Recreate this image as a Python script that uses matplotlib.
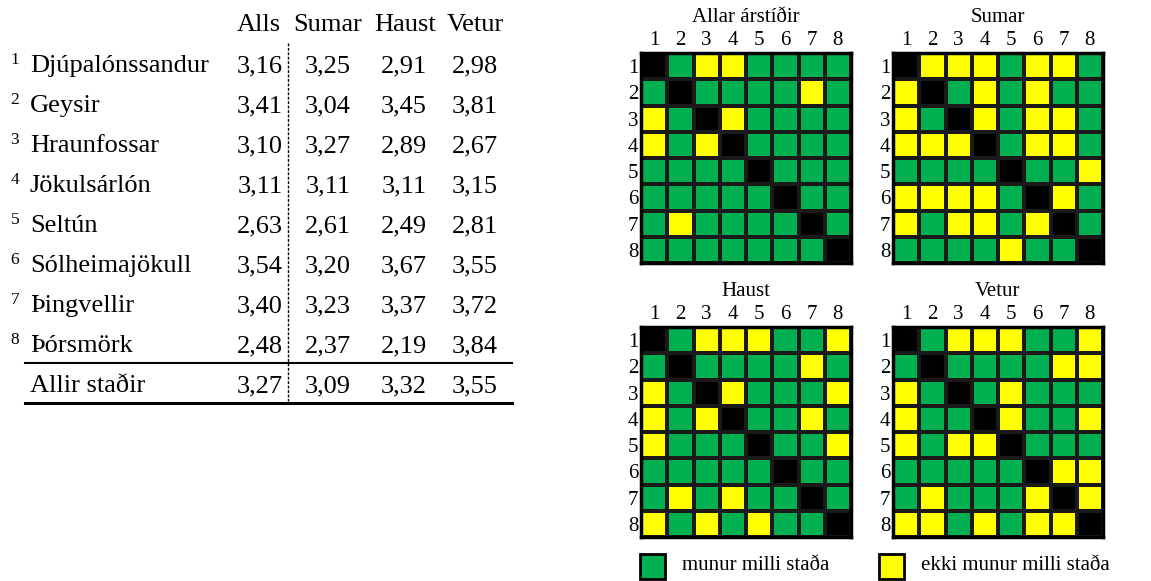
import matplotlib.pyplot as plt
import numpy as np
from matplotlib.colors import ListedColormap
from matplotlib.patches import Rectangle

plt.rcParams['font.family'] = ['Liberation Serif', 'DejaVu Serif']

# table data
places = ["Djúpalónssandur", "Geysir", "Hraunfossar", "Jökulsárlón",
          "Seltún", "Sólheimajökull", "Þingvellir", "Þórsmörk"]
columns = ["Alls", "Sumar", "Haust", "Vetur"]
alls = [3.16, 3.41, 3.10, 3.11, 2.63, 3.54, 3.40, 2.48]
sumar = [3.25, 3.04, 3.27, 3.11, 2.61, 3.20, 3.23, 2.37]
haust = [2.91, 3.45, 2.89, 3.11, 2.49, 3.67, 3.37, 2.19]
vetur = [2.98, 3.81, 2.67, 3.15, 2.81, 3.55, 3.72, 3.84]
total_label = "Allir staðir"
totals = [3.27, 3.09, 3.32, 3.55]

# pairwise matrices: G = munur, Y = ekki munur, B = diagonal
titles = ["Allar árstíðir", "Sumar", "Haust", "Vetur"]
m_allar = ["BGYYGGGG", "GBGGGGYG", "YGBYGGGG", "YGYBGGGG",
           "GGGGBGGG", "GGGGGBGG", "GYGGGGBG", "GGGGGGGB"]
m_sumar = ["BYYYGYYG", "YBGYGYGG", "YGBYGYYG", "YYYBGYYG",
           "GGGGBGGY", "YYYYGBYG", "YGYYGYBG", "GGGGYGGB"]
m_haust = ["BGYYYGGY", "GBGGGGYG", "YGBYGGGY", "YGYBGGYG",
           "YGGGBGGY", "GGGGGBGG", "GYGYGGBG", "YGYGYGGB"]
m_vetur = ["BGYYYGGY", "GBGGGGYY", "YGBGYGGG", "YGGBYGGY",
           "YGYYBGGG", "GGGGGBYY", "GYGGGYBY", "YYGYGYYB"]
legend_labels = ["munur milli staða", "ekki munur milli staða"]

GREEN = "#00B050"
YELLOW = "#FFFF00"
cmap = ListedColormap([GREEN, YELLOW, "black"])
code = {"G": 0, "Y": 1, "B": 2}

def fmt(v):
    return f"{v:.2f}".replace('.', ',')

W, H = 1151, 581
fig = plt.figure(figsize=(W / 100, H / 100), dpi=100)

# background axes in pixel coordinates for the table and legend
bg = fig.add_axes([0, 0, 1, 1])
bg.set_xlim(0, W)
bg.set_ylim(H, 0)
bg.axis('off')

fs = 19
bg.text(281, 25, columns[0], ha='right', va='center', fontsize=fs)
for cx, name in zip([328, 405, 475], columns[1:]):
    bg.text(cx, 25, name, ha='center', va='center', fontsize=fs)

for i, name in enumerate(places):
    y = 66 + i * 40
    bg.text(15, y - 6, str(i + 1), ha='center', va='center', fontsize=12.5)
    bg.text(30, y, name, ha='left', va='center', fontsize=fs)
    bg.text(283, y, fmt(alls[i]), ha='right', va='center', fontsize=fs)
    for cx, vals in zip([328, 404, 475], [sumar, haust, vetur]):
        bg.text(cx, y, fmt(vals[i]), ha='center', va='center', fontsize=fs)

y = 386
bg.text(30, y, total_label, ha='left', va='center', fontsize=fs)
bg.text(283, y, fmt(totals[0]), ha='right', va='center', fontsize=fs)
for cx, v in zip([328, 404, 475], totals[1:]):
    bg.text(cx, y, fmt(v), ha='center', va='center', fontsize=fs)

bg.plot([25, 512], [363, 363], color='black', lw=1.5)
bg.plot([25, 512], [403, 403], color='black', lw=2.2)
bg.plot([288, 288], [43, 401], color='black', lw=1.0, ls=(0, (2, 1.2)))

# matrices
mats = [m_allar, m_sumar, m_haust, m_vetur]
lefts = [641, 893, 641, 893]
tops = [53, 53, 327, 327]
size = 210
labels = [str(k) for k in range(1, 9)]
for mat, title, lx, ty in zip(mats, titles, lefts, tops):
    ax = fig.add_axes([lx / W, 1 - (ty + size) / H, size / W, size / H])
    arr = np.array([[code[c] for c in row] for row in mat])
    ax.pcolormesh(arr, cmap=cmap, vmin=-0.5, vmax=2.5,
                  edgecolors='#1a1a1a', linewidth=1.5)
    ax.set_xlim(0, 8)
    ax.set_ylim(8, 0)
    ax.xaxis.tick_top()
    ax.set_xticks(np.arange(8) + 0.5)
    ax.set_yticks(np.arange(8) + 0.5)
    ax.set_xticklabels(labels, fontsize=15)
    ax.set_yticklabels(labels, fontsize=15)
    ax.tick_params(length=0, pad=2)
    for s in ax.spines.values():
        s.set_linewidth(2.5)
    ax.set_title(title, fontsize=15, pad=22)

# legend
for x0, col, lab in zip([640, 879], [GREEN, YELLOW], legend_labels):
    bg.add_patch(Rectangle((x0, 554), 25, 25, facecolor=col, edgecolor='black', lw=2))
    bg.text(x0 + 42, 566, lab, ha='left', va='center', fontsize=15)

fig.savefig("out.png", dpi=100)
